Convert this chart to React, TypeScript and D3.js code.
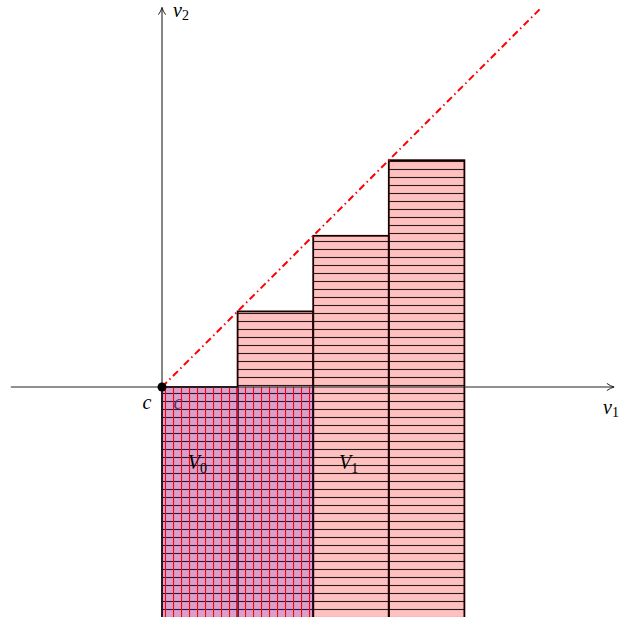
import { useEffect, useRef } from 'react';
import * as d3 from 'd3';

// bars of the staircase: left edge (in units) and height above the v1 axis
const barStarts = [0, 1, 2, 3];
const barHeights = [0, 1, 2, 3];
const barBottom = -3.1;

// region V0 (cross hatched), spans these bars below the axis
const v0Range = [0, 2];

// dashed diagonal v2 = v1
const diagonal: [number, number][] = [[0, 0], [5, 5]];

const labels = [
  { text: 'V', sub: '0', x: 0.5, y: -1.0 },
  { text: 'V', sub: '1', x: 2.5, y: -1.0 },
];

export default function App() {
  const svgRef = useRef<SVGSVGElement>(null);

  useEffect(() => {
    if (!svgRef.current) return;
    const svg = d3.select(svgRef.current);
    svg.selectAll('*').remove();

    const unit = 75.6;
    const x = d3.scaleLinear().domain([0, 1]).range([162, 162 + unit]);
    const y = d3.scaleLinear().domain([0, 1]).range([387, 387 - unit]);

    const defs = svg.append('defs');

    defs.append('marker')
      .attr('id', 'arrow')
      .attr('viewBox', '0 0 10 10')
      .attr('refX', 9).attr('refY', 5)
      .attr('markerWidth', 9).attr('markerHeight', 9)
      .attr('markerUnits', 'userSpaceOnUse')
      .attr('orient', 'auto')
      .append('path')
      .attr('d', 'M1,1 Q5,4 9,5 Q5,6 1,9')
      .attr('fill', 'none')
      .attr('stroke', '#222')
      .attr('stroke-width', 1.1);

    const hp = defs.append('pattern')
      .attr('id', 'hlines')
      .attr('patternUnits', 'userSpaceOnUse')
      .attr('width', 8).attr('height', 8);
    hp.append('line')
      .attr('x1', 0).attr('x2', 8).attr('y1', 1.5).attr('y2', 1.5)
      .attr('stroke', '#2a1a1a').attr('stroke-width', 1.1);

    const vp = defs.append('pattern')
      .attr('id', 'vlines')
      .attr('patternUnits', 'userSpaceOnUse')
      .attr('width', 8).attr('height', 8);
    vp.append('line')
      .attr('x1', 5.5).attr('x2', 5.5).attr('y1', 0).attr('y2', 8)
      .attr('stroke', '#ff0000').attr('stroke-width', 1.1);

    // bars
    const bars = svg.append('g');
    barStarts.forEach((b, i) => {
      const rx = x(b);
      const rw = x(b + 1) - x(b);
      const top = y(barHeights[i]);
      const bottom = y(barBottom);
      bars.append('rect')
        .attr('x', rx).attr('y', top).attr('width', rw).attr('height', bottom - top)
        .attr('fill', '#ffc0c0');
      bars.append('rect')
        .attr('x', rx).attr('y', top).attr('width', rw).attr('height', bottom - top)
        .attr('fill', 'url(#hlines)');
    });
    barStarts.forEach((b, i) => {
      bars.append('rect')
        .attr('x', x(b)).attr('y', y(barHeights[i]))
        .attr('width', x(b + 1) - x(b)).attr('height', y(barBottom) - y(barHeights[i]))
        .attr('fill', 'none')
        .attr('stroke', '#1a0000').attr('stroke-width', 1.8);
    });

    const font = 'Liberation Serif, serif';

    // faint c under the overlay
    svg.append('text')
      .attr('x', 178).attr('y', 409)
      .attr('text-anchor', 'middle')
      .attr('font-family', font).attr('font-style', 'italic')
      .attr('font-size', 20).attr('fill', '#5a3a56')
      .text('c');

    // V0 overlay
    const v0x = x(v0Range[0]);
    const v0w = x(v0Range[1]) - x(v0Range[0]);
    svg.append('rect')
      .attr('x', v0x).attr('y', y(0)).attr('width', v0w).attr('height', y(barBottom) - y(0))
      .attr('fill', '#3000ff').attr('fill-opacity', 0.17);
    svg.append('rect')
      .attr('x', v0x).attr('y', y(0)).attr('width', v0w).attr('height', y(barBottom) - y(0))
      .attr('fill', 'url(#vlines)');

    // axes
    svg.append('line')
      .attr('x1', x(-2)).attr('x2', x(5.98)).attr('y1', y(0)).attr('y2', y(0))
      .attr('stroke', '#222').attr('stroke-width', 1.1).attr('marker-end', 'url(#arrow)');
    svg.append('line')
      .attr('x1', x(0)).attr('x2', x(0)).attr('y1', y(-3.1)).attr('y2', y(5.02))
      .attr('stroke', '#222').attr('stroke-width', 1.1).attr('marker-end', 'url(#arrow)');

    // diagonal
    const line = d3.line<[number, number]>().x(d => x(d[0])).y(d => y(d[1]));
    svg.append('path')
      .attr('d', line(diagonal) ?? '')
      .attr('fill', 'none')
      .attr('stroke', '#ff0000').attr('stroke-width', 2)
      .attr('stroke-dasharray', '7,3.5,1.5,3.5');

    // origin dot
    svg.append('circle')
      .attr('cx', x(0)).attr('cy', y(0)).attr('r', 4.5).attr('fill', '#000');

    svg.append('text')
      .attr('x', 147).attr('y', 409).attr('text-anchor', 'middle')
      .attr('font-family', font).attr('font-style', 'italic').attr('font-size', 20)
      .text('c');

    const axisLabel = (tx: number, ty: number, main: string, sub: string) => {
      const t = svg.append('text')
        .attr('x', tx).attr('y', ty)
        .attr('font-family', font).attr('font-size', 20);
      t.append('tspan').attr('font-style', 'italic').text(main);
      t.append('tspan').attr('font-size', 14).attr('dy', 3).text(sub);
    };
    axisLabel(173, 17, 'v', '2');
    axisLabel(603, 414, 'v', '1');

    labels.forEach(l => {
      const t = svg.append('text')
        .attr('x', x(l.x) - 12).attr('y', y(l.y) + 6)
        .attr('font-family', font).attr('font-size', 20);
      t.append('tspan').attr('font-style', 'italic').text(l.text);
      t.append('tspan').attr('font-size', 14).attr('dy', 4).text(l.sub);
    });
  }, []);

  return (
    <svg
      ref={svgRef}
      width={621}
      height={617}
      style={{ position: 'absolute', left: 0, top: 0, background: '#fff' }}
    />
  );
}
